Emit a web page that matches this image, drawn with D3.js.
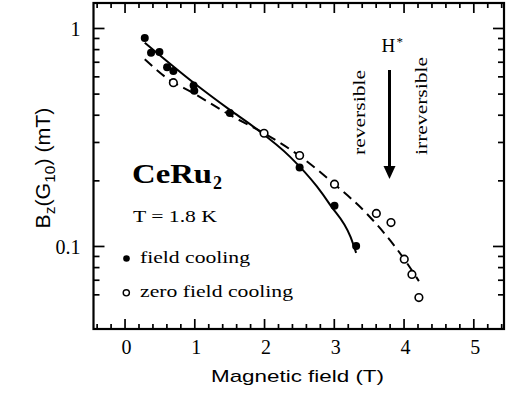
<!DOCTYPE html>
<html>
<head>
<meta charset="utf-8">
<script src="https://cdn.jsdelivr.net/npm/d3@7/dist/d3.min.js"></script>
<style>
html,body{margin:0;padding:0;background:#fff;}
svg{display:block;}
</style>
</head>
<body>
<svg id="chart" width="513" height="399"></svg>
<script>
// ---- data ----
const fcX = [0.29, 0.38, 0.50, 0.61, 0.70, 0.99, 1.00, 1.51, 2.51, 3.01, 3.32];
const fcY = [0.90, 0.77, 0.775, 0.66, 0.635, 0.545, 0.515, 0.407, 0.229, 0.153, 0.100];
const zfcX = [0.70, 2.00, 2.51, 3.01, 3.61, 3.82, 4.01, 4.12, 4.22];
const zfcY = [0.561, 0.329, 0.260, 0.192, 0.141, 0.128, 0.087, 0.074, 0.058];
const fitFcX = [0.29, 1.00, 1.51, 1.85, 2.37, 2.76, 2.95, 3.24, 3.32];
const fitFcY = [0.856, 0.558, 0.421, 0.352, 0.257, 0.187, 0.154, 0.110, 0.093];
const fitZfcX = [0.29, 0.61, 0.99, 1.51, 2.00, 2.50, 3.01, 3.47, 4.01, 4.22];
const fitZfcY = [0.718, 0.588, 0.502, 0.399, 0.329, 0.260, 0.192, 0.141, 0.087, 0.069];
const xTicks = [0, 1, 2, 3, 4, 5];
const xMinor = d3.range(-0.4, 5.45, 0.2).map(v => Math.round(v * 10) / 10).filter(v => Math.abs(v - Math.round(v)) > 1e-6);
const yTicks = [0.1, 1];
const yTickLabels = ["0.1", "1"];
const yMinor = [0.06, 0.07, 0.08, 0.09, 0.2, 0.3, 0.4, 0.5, 0.6, 0.7, 0.8, 0.9];

// ---- layout ----
const L = 93.5, R = 504, T = 3, B = 329;
const x = d3.scaleLinear().domain([-0.445, 5.44]).range([L, R]);
const y = d3.scaleLog().domain([0.0416, 1.302]).range([B, T]);
const svg = d3.select("#chart");
const serif = "'Liberation Serif', 'Times New Roman', serif";
const sans = "'Liberation Sans', Arial, sans-serif";

function styleAxis(g) {
  g.select(".domain").remove();
  g.selectAll("line").attr("stroke", "#000").attr("stroke-width", 1.7);
}

// ticks (inward)
svg.append("g").attr("transform", `translate(0,${B})`)
  .call(d3.axisBottom(x).tickValues(xTicks).tickSize(-10).tickFormat(""))
  .call(styleAxis);
svg.append("g").attr("transform", `translate(0,${B})`)
  .call(d3.axisBottom(x).tickValues(xMinor).tickSize(-5).tickFormat(""))
  .call(styleAxis);
svg.append("g").attr("transform", `translate(0,${T})`)
  .call(d3.axisTop(x).tickValues(xTicks).tickSize(-10).tickFormat(""))
  .call(styleAxis);
svg.append("g").attr("transform", `translate(0,${T})`)
  .call(d3.axisTop(x).tickValues(xMinor).tickSize(-5).tickFormat(""))
  .call(styleAxis);
svg.append("g").attr("transform", `translate(${L},0)`)
  .call(d3.axisLeft(y).tickValues(yTicks).tickSize(-11).tickFormat(""))
  .call(styleAxis);
svg.append("g").attr("transform", `translate(${L},0)`)
  .call(d3.axisLeft(y).tickValues(yMinor).tickSize(-6).tickFormat(""))
  .call(styleAxis);
svg.append("g").attr("transform", `translate(${R},0)`)
  .call(d3.axisRight(y).tickValues(yTicks).tickSize(-11).tickFormat(""))
  .call(styleAxis);
svg.append("g").attr("transform", `translate(${R},0)`)
  .call(d3.axisRight(y).tickValues(yMinor).tickSize(-6).tickFormat(""))
  .call(styleAxis);

// frame
svg.append("rect").attr("x", L).attr("y", T).attr("width", R - L).attr("height", B - T)
  .attr("fill", "none").attr("stroke", "#000").attr("stroke-width", 2.2);

// tick labels
svg.append("g").selectAll("text").data(xTicks).join("text")
  .attr("x", d => x(d) + 2).attr("y", 353.5)
  .attr("text-anchor", "middle").attr("font-family", serif).attr("font-size", 20)
  .text(d => d);
svg.append("g").selectAll("text").data(yTicks).join("text")
  .attr("x", 80.5).attr("y", d => y(d) + 8.5)
  .attr("text-anchor", "end").attr("font-family", serif).attr("font-size", 20)
  .text((d, i) => yTickLabels[i]);

// axis titles
svg.append("text").attr("x", 211).attr("y", 382)
  .attr("font-family", sans).attr("font-size", 17)
  .attr("textLength", 173).attr("lengthAdjust", "spacingAndGlyphs")
  .text("Magnetic field (T)");

const yl = svg.append("text").attr("font-family", sans).attr("font-size", 18)
  .attr("text-anchor", "middle");
yl.append("tspan").text("B");
yl.append("tspan").attr("font-size", 13).attr("dy", 4).text("z");
yl.append("tspan").attr("dy", -4).text("(G");
yl.append("tspan").attr("font-size", 13).attr("dy", 4).text("10");
yl.append("tspan").attr("dy", -4).text(") (mT)");
{
  const w = yl.node().getComputedTextLength();
  const s = 121 / w;
  yl.attr("transform", `translate(50,168) rotate(-90) scale(${s},1.15)`);
}

// fit curves
const line = d3.line().x(d => x(d[0])).y(d => y(d[1])).curve(d3.curveMonotoneX);
svg.append("path").datum(fitFcX.map((v, i) => [v, fitFcY[i]]))
  .attr("d", line).attr("fill", "none").attr("stroke", "#000").attr("stroke-width", 2);
svg.append("path").datum(fitZfcX.map((v, i) => [v, fitZfcY[i]]))
  .attr("d", line).attr("fill", "none").attr("stroke", "#000").attr("stroke-width", 2)
  .attr("stroke-dasharray", "10,6");

// points
svg.append("g").selectAll("circle").data(fcX).join("circle")
  .attr("cx", d => x(d)).attr("cy", (d, i) => y(fcY[i])).attr("r", 4)
  .attr("fill", "#000");
svg.append("g").selectAll("circle").data(zfcX).join("circle")
  .attr("cx", d => x(d)).attr("cy", (d, i) => y(zfcY[i])).attr("r", 3.8)
  .attr("fill", "#fff").attr("stroke", "#000").attr("stroke-width", 1.6);

// annotations
const ce = svg.append("text").attr("x", 132).attr("y", 183)
  .attr("font-family", serif).attr("font-size", 28).attr("font-weight", "bold");
ce.text("CeRu").attr("textLength", 80).attr("lengthAdjust", "spacingAndGlyphs");
svg.append("text").attr("x", 213).attr("y", 189)
  .attr("font-family", serif).attr("font-size", 18).attr("font-weight", "bold").text("2");

svg.append("text").attr("x", 133).attr("y", 222)
  .attr("font-family", serif).attr("font-size", 17)
  .attr("textLength", 84).attr("lengthAdjust", "spacingAndGlyphs").text("T = 1.8 K");

svg.append("circle").attr("cx", 126.5).attr("cy", 258.5).attr("r", 3.3).attr("fill", "#000");
svg.append("text").attr("x", 140).attr("y", 263)
  .attr("font-family", serif).attr("font-size", 17.5)
  .attr("textLength", 110).attr("lengthAdjust", "spacingAndGlyphs").text("field cooling");
svg.append("circle").attr("cx", 126.3).attr("cy", 292.8).attr("r", 3.1)
  .attr("fill", "#fff").attr("stroke", "#000").attr("stroke-width", 1.4);
svg.append("text").attr("x", 140).attr("y", 297)
  .attr("font-family", serif).attr("font-size", 17.5)
  .attr("textLength", 153).attr("lengthAdjust", "spacingAndGlyphs").text("zero field cooling");

svg.append("text").attr("x", 381.5).attr("y", 52)
  .attr("font-family", serif).attr("font-size", 19).text("H");
svg.append("text").attr("x", 396.5).attr("y", 46)
  .attr("font-family", serif).attr("font-size", 13).text("*");

svg.append("text").attr("transform", "translate(365,155) rotate(-90)")
  .attr("font-family", serif).attr("font-size", 17)
  .attr("textLength", 85).attr("lengthAdjust", "spacingAndGlyphs").text("reversible");
svg.append("text").attr("transform", "translate(427,155) rotate(-90)")
  .attr("font-family", serif).attr("font-size", 17)
  .attr("textLength", 98).attr("lengthAdjust", "spacingAndGlyphs").text("irreversible");

svg.append("line").attr("x1", 389.5).attr("x2", 389.5).attr("y1", 70).attr("y2", 168)
  .attr("stroke", "#000").attr("stroke-width", 3);
svg.append("path").attr("d", "M383.5,166 L395.5,166 L389.5,179 Z").attr("fill", "#000");
</script>
</body>
</html>
